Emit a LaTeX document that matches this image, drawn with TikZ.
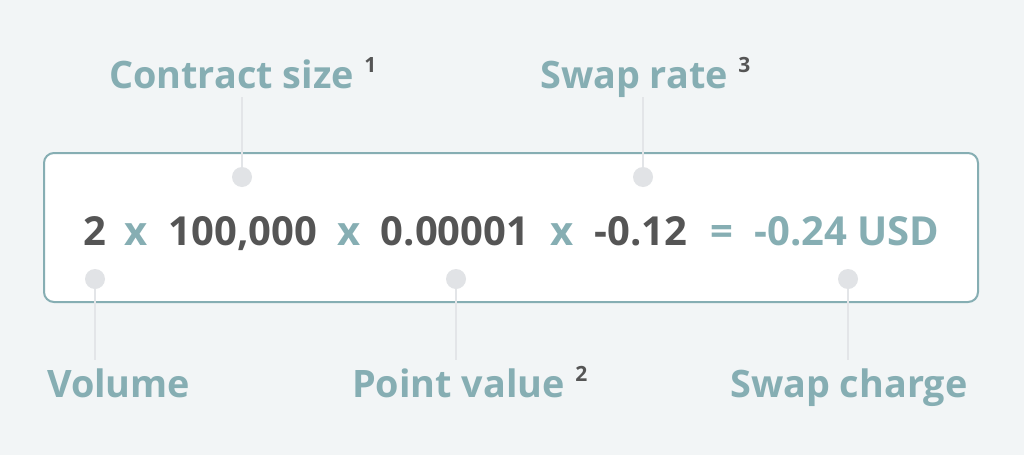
\documentclass[tikz,border=0pt]{standalone}
\usepackage{fontspec}
\setmainfont{Open Sans}
\definecolor{bgpage}{HTML}{F2F5F6}
\definecolor{teal}{HTML}{86AEB3}
\definecolor{darktxt}{HTML}{555555}
\definecolor{dotgrey}{HTML}{E1E3E6}
\definecolor{leadgrey}{HTML}{E3E5E8}
\tikzset{
  lbl/.style={anchor=base west, inner sep=0pt, text=teal, font=\fontsize{37.8}{40}\selectfont\bfseries},
  supnum/.style={anchor=base west, inner sep=0pt, text=darktxt, font=\fontsize{21}{22}\selectfont\bfseries},
  term/.style={anchor=base, inner sep=0pt, text=darktxt, font=\fontsize{40}{42}\selectfont\bfseries},
  oper/.style={term, text=teal},
  dotmark/.style={circle, fill=dotgrey, minimum size=20pt, inner sep=0pt},
  leader/.style={draw=leadgrey, line width=1.5pt}
}
\begin{document}
\begin{tikzpicture}[x=1pt,y=-1pt]
	
	\fill[bgpage] (0,0) rectangle (1024,455);
	\useasboundingbox (0,0) rectangle (1024,455);
	\draw[teal, line width=2pt, fill=white, rounded corners=10pt] (44,153) rectangle (978,302);
	
	% equation
	\node[term] (vol) at (95,245) {2};
	\node[oper] (op1) at (136,245) {x};
	\node[term] (csize) at (243,245) {100,000};
	\node[oper] (op2) at (349,245) {x};
	\node[term] (pval) at (455,245) {0.00001};
	\node[oper] (op3) at (562,245) {x};
	\node[term] (srate) at (641,245) {-0.12};
	\node[oper] (eq) at (722,245) {=};
	\node[oper] (charge) at (847,245) {-0.24 USD};
	
	% labels
	\node[lbl] (lblCS) at (109,88) {Contract size};
	\node[supnum] at ([xshift=10pt,yshift=16pt]lblCS.base east) {1};
	\node[lbl] (lblSR) at (540,88) {Swap rate};
	\node[supnum] at ([xshift=10pt,yshift=16pt]lblSR.base east) {3};
	\node[lbl] (lblVol) at (47,397) {Volume};
	\node[lbl] (lblPV) at (352,397) {Point value};
	\node[supnum] at ([xshift=10pt,yshift=16pt]lblPV.base east) {2};
	\node[lbl] (lblSC) at (730,397) {Swap charge};
	
	% dots
	\coordinate (topCS) at (242,97);
	\coordinate (topSR) at (643,97);
	\coordinate (botVol) at (95,360);
	\coordinate (botPV) at (456,360);
	\coordinate (botSC) at (848,360);
	\node[dotmark] (dCS) at (242,177) {};
	\node[dotmark] (dSR) at (643,177) {};
	\node[dotmark] (dVol) at (95,279) {};
	\node[dotmark] (dPV) at (456,279) {};
	\node[dotmark] (dSC) at (848,279) {};
	\draw[leader] (topCS) -- (dCS.north);
	\draw[leader] (topSR) -- (dSR.north);
	\draw[leader] (dVol.south) -- (botVol);
	\draw[leader] (dPV.south) -- (botPV);
	\draw[leader] (dSC.south) -- (botSC);
	
	\end{tikzpicture}
\end{document}
